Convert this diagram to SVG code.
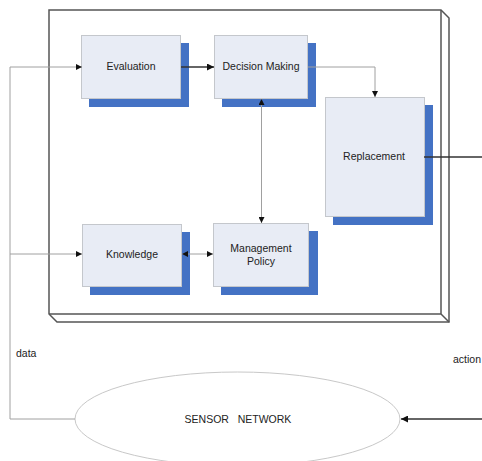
<svg xmlns="http://www.w3.org/2000/svg" width="482" height="461" viewBox="0 0 482 461">
<defs>
<style>
.box{fill:#e8ecf5;stroke:#c4c7cc;stroke-width:1}
.sh{fill:#4472c4}
.t{font-family:"Liberation Sans",Arial,sans-serif;font-size:10.5px;fill:#222;text-anchor:middle}
.lbl{font-family:"Liberation Sans",Arial,sans-serif;font-size:10.5px;fill:#222}
.thin{stroke:#a0a0a0;stroke-width:1;fill:none}
.thick{stroke:#333;stroke-width:1.5;fill:none}
.frame{stroke:#555;stroke-width:1.5;fill:#fff}
</style>
<marker id="ah" viewBox="0 0 10 10" refX="10" refY="5" markerWidth="8" markerHeight="6" orient="auto" markerUnits="userSpaceOnUse"><path d="M0,0 L10,5 L0,10 z" fill="#111"/></marker>
<marker id="ahs" viewBox="0 0 10 10" refX="0" refY="5" markerWidth="8" markerHeight="6" orient="auto" markerUnits="userSpaceOnUse"><path d="M10,0 L0,5 L10,10 z" fill="#111"/></marker>
<marker id="ahb" viewBox="0 0 10 10" refX="10" refY="5" markerWidth="10" markerHeight="7" orient="auto" markerUnits="userSpaceOnUse"><path d="M0,0 L10,5 L0,10 z" fill="#111"/></marker>
</defs>

<g id="frame">
<path class="frame" d="M49,10 L441,10 L449,18 L449,322 L57,322 L49,314 Z"/>
<path d="M441,10 L441,314 L49,314 M441,314 L449,322" stroke="#555" stroke-width="1.5" fill="none"/>
</g>

<g id="evaluation">
<rect class="sh" x="89" y="43" width="100" height="64"/>
<rect class="box" x="81.5" y="35.5" width="99" height="63"/>
<text class="t" x="131" y="70">Evaluation</text>
</g>

<g id="decision">
<rect class="sh" x="222" y="43" width="94" height="64"/>
<rect class="box" x="214.5" y="35.5" width="93" height="63"/>
<text class="t" x="261" y="70">Decision Making</text>
</g>

<g id="replacement">
<rect class="sh" x="333" y="105" width="100" height="120"/>
<rect class="box" x="325.5" y="97.5" width="99" height="119"/>
<text class="t" x="374" y="160">Replacement</text>
</g>

<g id="knowledge">
<rect class="sh" x="90" y="232" width="100" height="63"/>
<rect class="box" x="82.5" y="224.5" width="99" height="62"/>
<text class="t" x="132" y="258">Knowledge</text>
</g>

<g id="management">
<rect class="sh" x="221" y="231" width="97" height="64"/>
<rect class="box" x="213.5" y="223.5" width="95" height="63"/>
<text class="t" x="261" y="252">Management</text>
<text class="t" x="261" y="265">Policy</text>
</g>

<g id="sensor">
<ellipse cx="237.5" cy="419" rx="162.5" ry="47" fill="#fff" stroke="#c8c8c8" stroke-width="1"/>
<text class="t" x="238" y="423" xml:space="preserve">SENSOR   NETWORK</text>
</g>

<g id="connectors">
<path class="thin" d="M75,419 L10,419 L10,67 L82,67" marker-end="url(#ah)"/>
<path class="thin" d="M10,254 L82,254" marker-end="url(#ah)"/>
<path class="thick" d="M181,67 L214,67" marker-end="url(#ahb)"/>
<path class="thin" d="M308,67 L375,67 L375,97" marker-end="url(#ah)"/>
<path class="thin" d="M261.5,99 L261.5,223" marker-start="url(#ahs)" marker-end="url(#ah)"/>
<path class="thin" d="M182,254 L213,254" marker-start="url(#ahs)" marker-end="url(#ah)"/>
<path class="thick" d="M424,157 L482,157"/>
<path class="thick" d="M482,419 L401,419" marker-end="url(#ahb)"/>
</g>

<text class="lbl" x="16" y="357">data</text>
<text class="lbl" x="453" y="363">action</text>
</svg>
